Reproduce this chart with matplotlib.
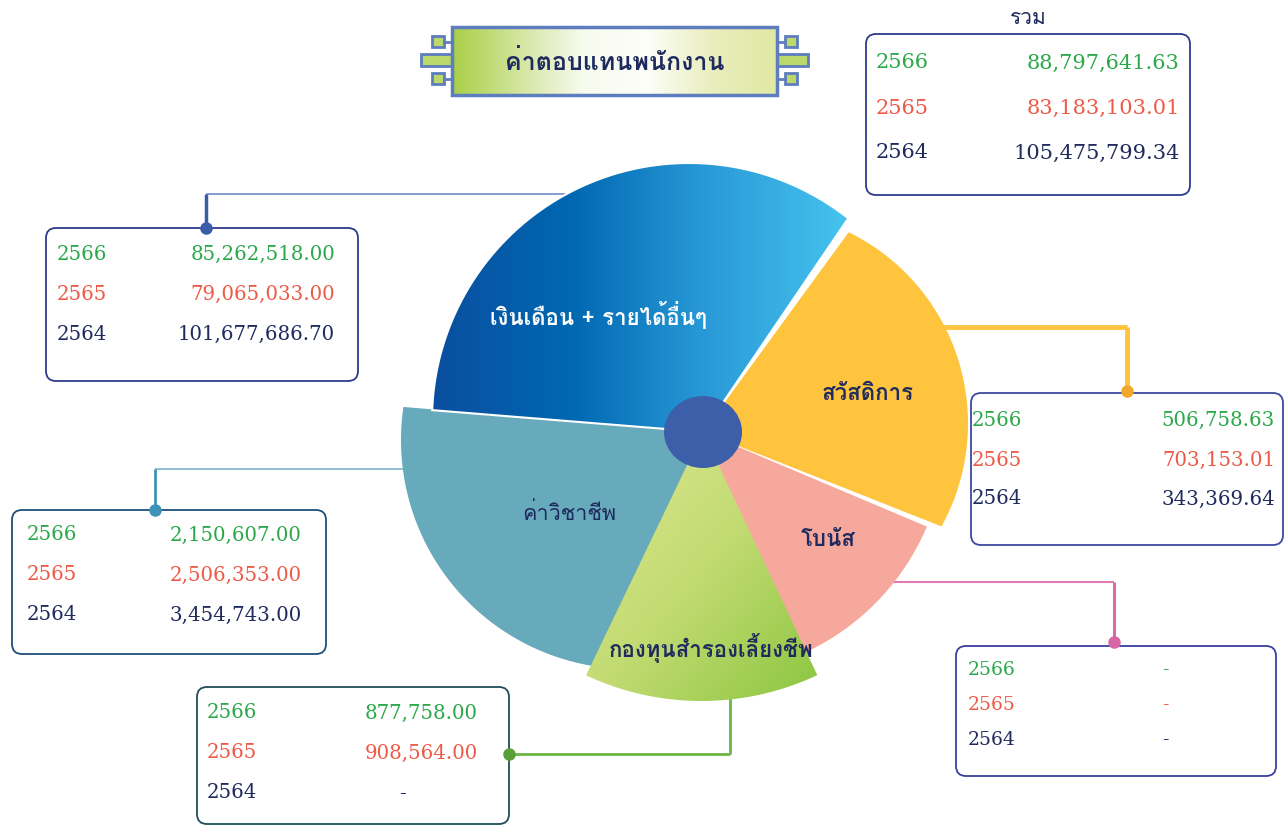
import numpy as np
import matplotlib.pyplot as plt
from matplotlib import font_manager
from matplotlib.ft2font import FT2Font
from matplotlib.patches import Polygon, Ellipse, FancyBboxPatch, Rectangle
from matplotlib.colors import LinearSegmentedColormap

# data
years = ['2566', '2565', '2564']
categories = ['เงินเดือน + รายได้อื่นๆ', 'สวัสดิการ', 'ค่าวิชาชีพ', 'โบนัส', 'กองทุนสำรองเลี้ยงชีพ']
salary = [85262518.00, 79065033.00, 101677686.70]
welfare = [506758.63, 703153.01, 343369.64]
professional = [2150607.00, 2506353.00, 3454743.00]
bonus = [None, None, None]
provident = [877758.00, 908564.00, None]
title = 'ค่าตอบแทนพนักงาน'
total_title = 'รวม'

series = [salary, welfare, professional, bonus, provident]
totals = [sum((s[i] or 0) for s in series) for i in range(len(years))]

# styles
navy = '#1F2B5E'
year_colors = ['#2BA84A', '#EE5A48', '#1F2B5E']


def find_thai_fonts():
    found = []
    for f in font_manager.fontManager.ttflist:
        try:
            if 0x0E04 in FT2Font(f.fname).get_charmap():
                found.append(f.name)
        except Exception:
            pass
    return found


thai = find_thai_fonts()
thai_family = ['Loma'] if 'Loma' in thai else thai[:1]
plt.rcParams['font.family'] = thai_family + ['DejaVu Sans']

fig = plt.figure(figsize=(12.87, 8.32), dpi=100)
ax = fig.add_axes([0, 0, 1, 1])
ax.set_xlim(0, 1287)
ax.set_ylim(832, 0)
ax.axis('off')


def gradient(patch, extent, colors, diagonal=False, z=2):
    x0, x1, y0, y1 = extent
    if diagonal:
        xx, yy = np.meshgrid(np.linspace(0, 1, 200), np.linspace(0, 1, 200))
        g = (xx + yy) / 2
    else:
        g = np.tile(np.linspace(0, 1, 256), (2, 1))
    cmap = LinearSegmentedColormap.from_list('g', colors)
    im = ax.imshow(g, cmap=cmap, extent=(x0, x1, y1, y0), origin='upper',
                   aspect='auto', interpolation='bilinear', zorder=z)
    im.set_clip_path(patch)


def slice_poly(apex, c, r, a1, a2):
    t = np.radians(np.linspace(a1, a2, 150))
    pts = np.column_stack([c[0] + r * np.cos(t), c[1] - r * np.sin(t)])
    return np.vstack([[apex], pts])


# pie slices: (arc centre, radius, start/end angle, fill)
apex = (703, 432)
slices = [
    dict(c=(630, 440), r=229, a=(171.7, 261), color='#67AABB', z=2.0),
    dict(c=(703, 432), r=243, a=(-70, -22.9), color='#F7A89C', z=2.1),
    dict(c=(755, 423.5), r=213, a=(-28.9, 63.9), color='#FFC43E', z=2.2),
    dict(c=(689, 420), r=257, a=(51.7, 177.8),
         grad=['#0A4E9F', '#0068B2', '#2A9BD8', '#46C4EE'], ext=(432, 850, 160, 432), z=2.3),
    dict(c=(701.5, 429), r=272, a=(244.9, 295.2),
         grad=['#E0E892', '#C2DB72', '#8BC540'], ext=(585, 820, 430, 705), diag=True, z=2.4),
]
for s in slices:
    pts = slice_poly(apex, s['c'], s['r'], *s['a'])
    if 'grad' in s:
        p = Polygon(pts, closed=True, facecolor='none', edgecolor='white',
                    lw=1.5 if s['z'] == 2.3 else 0, zorder=s['z'] + 0.01)
        ax.add_patch(p)
        gradient(p, s['ext'], s['grad'], diagonal=s.get('diag', False), z=s['z'])
    else:
        ax.add_patch(Polygon(pts, closed=True, facecolor=s['color'], edgecolor='none', zorder=s['z']))

ax.add_patch(Ellipse(apex, 78, 72, facecolor='#3D5FAA', edgecolor='none', zorder=3))

# slice labels
label_pos = [(598, 315), (868, 394), (569, 514), (828, 540), (711, 648)]
label_style = [dict(color='white', weight='bold', fontsize=16),
               dict(color=navy, weight='bold', fontsize=16),
               dict(color=navy, weight='normal', fontsize=15.5),
               dict(color=navy, weight='bold', fontsize=16),
               dict(color=navy, weight='bold', fontsize=16)]
for name, (x, y), st in zip(categories, label_pos, label_style):
    ax.text(x, y, name, ha='center', va='center', zorder=4, **st)

# title banner
bx0, by0, bx1, by1 = 452, 27, 777, 95
ban_color = '#5D7DBE'
orn_fill = '#BBD86A'
for side in (-1, 1):
    if side < 0:
        sq_x, bar = (432, 444), (421, 452)
    else:
        sq_x, bar = (785, 797), (777, 808)
    for sy in ((36, 47), (73, 84)):
        ax.add_patch(Rectangle((sq_x[0], sy[0]), sq_x[1] - sq_x[0], sy[1] - sy[0],
                               facecolor=orn_fill, edgecolor=ban_color, lw=2, zorder=5))
    ax.add_patch(Rectangle((bar[0], 54), bar[1] - bar[0], 12,
                           facecolor=orn_fill, edgecolor=ban_color, lw=2, zorder=5))
    edge = bx0 if side < 0 else bx1
    inner = sq_x[1] if side < 0 else sq_x[0]
    for yy in (41.5, 78.5):
        ax.plot([inner, edge], [yy, yy], color=ban_color, lw=2, zorder=5)
banner = Rectangle((bx0, by0), bx1 - bx0, by1 - by0, facecolor='none',
                   edgecolor=ban_color, lw=2.5, zorder=6)
ax.add_patch(banner)
gradient(banner, (bx0, bx1, by0, by1), ['#A8CF46', '#D2E49C', '#F7FAEE', '#FDFEF8', '#E9EEBE', '#E0E8A2'], z=5.5)
ax.text((bx0 + bx1) / 2, 63, title, ha='center', va='center', fontsize=18,
        weight='bold', color=navy, zorder=7)

# leader lines
leaders = [
    ([(600, 194), (206, 194)], '#6E8DC9', 1.2, [(206, 194), (206, 228)], '#3A5CA9', 2.5, (206, 228)),
    ([(930, 327), (1127, 327)], '#FFC43E', 3.5, [(1127, 327), (1127, 391)], '#FFC43E', 3.5, (1127, 391)),
    ([(420, 469), (155, 469)], '#7DB5CF', 1.2, [(155, 469), (155, 510)], '#3F93B8', 2.0, (155, 510)),
    ([(880, 582), (1114, 582)], '#E07AB4', 1.5, [(1114, 582), (1114, 642)], '#DB6AAA', 2.2, (1114, 642)),
    ([(730, 690), (730, 754)], '#6DB544', 2.0, [(730, 754), (509, 754)], '#6DB544', 2.0, (509, 754)),
]
dot_colors = ['#3A5CA9', '#F0A82A', '#3F93B8', '#D866A6', '#5A9E3A']
for (l1, c1, w1, l2, c2, w2, dot), dc in zip(leaders, dot_colors):
    ax.plot(*zip(*l1), color=c1, lw=w1, zorder=1, solid_capstyle='butt')
    ax.plot(*zip(*l2), color=c2, lw=w2, zorder=1, solid_capstyle='butt')
    ax.plot(*dot, 'o', color=dc, ms=8, zorder=8)

# value boxes
boxes = [
    dict(vals=totals, rect=(866, 34, 1190, 195), rows=(63, 108, 153), yx=876, vx=1180, dx=1100, ec='#2E3A8C', fs=15),
    dict(vals=salary, rect=(46, 228, 358, 381), rows=(254, 294, 334), yx=57, vx=335, dx=280, ec='#2E3A8C', fs=14.2),
    dict(vals=welfare, rect=(971, 393, 1283, 545), rows=(420, 460, 499), yx=972, vx=1275, dx=1200, ec='#3B4AA0', fs=14.2),
    dict(vals=professional, rect=(12, 510, 326, 654), rows=(535, 575, 615), yx=27, vx=302, dx=240, ec='#1F4E7A', fs=14.2),
    dict(vals=provident, rect=(197, 687, 509, 824), rows=(713, 753, 793), yx=207, vx=478, dx=402, ec='#1F4E5A', fs=14.2),
    dict(vals=bonus, rect=(956, 646, 1276, 776), rows=(670, 705, 740), yx=968, vx=1200, dx=1165, ec='#3B3FA0', fs=13.5),
]
for b in boxes:
    x0, y0, x1, y1 = b['rect']
    ax.add_patch(FancyBboxPatch((x0, y0), x1 - x0, y1 - y0,
                                boxstyle='round,pad=0,rounding_size=10',
                                facecolor='white', edgecolor=b['ec'], lw=1.3, zorder=7))
    for yr, v, y, col in zip(years, b['vals'], b['rows'], year_colors):
        ax.text(b['yx'], y, yr, ha='left', va='center', fontsize=b['fs'],
                family='DejaVu Serif', color=col, zorder=9)
        if v is None:
            ax.text(b['dx'], y, '-', ha='center', va='center', fontsize=b['fs'],
                    family='DejaVu Serif', color=col, zorder=9)
        else:
            ax.text(b['vx'], y, f'{v:,.2f}', ha='right', va='center', fontsize=b['fs'],
                    family='DejaVu Serif', color=col, zorder=9)

ax.text(1028, 18, total_title, ha='center', va='center', fontsize=15, color=navy, zorder=9)

fig.savefig('out.png', dpi=100)
